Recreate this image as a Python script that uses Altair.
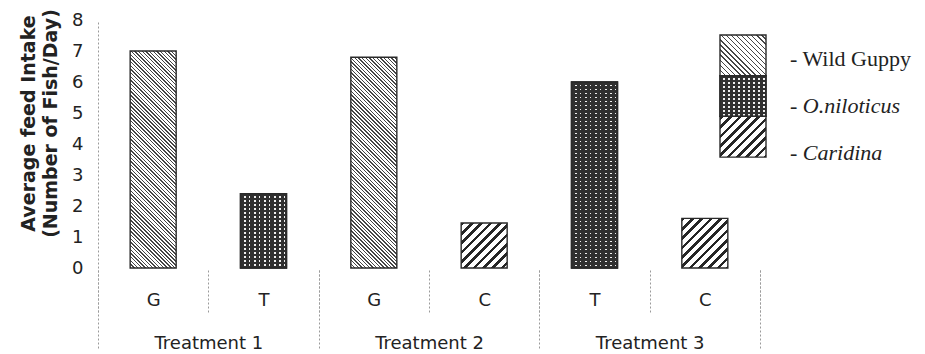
import math
import altair as alt
import pandas as pd

# ---------------- data ----------------
slots = ["G1", "T1", "G2", "C2", "T3", "C3"]
letters = ["G", "T", "G", "C", "T", "C"]
groups = ["Treatment 1", "Treatment 1", "Treatment 2", "Treatment 2", "Treatment 3", "Treatment 3"]
values = [7.0, 2.4, 6.8, 1.45, 6.0, 1.6]
species = ["Wild Guppy", "O.niloticus", "Wild Guppy", "Caridina", "O.niloticus", "Caridina"]
treatment_names = ["Treatment 1", "Treatment 2", "Treatment 3"]
legend_names = ["Wild Guppy", "O.niloticus", "Caridina"]
legend_labels = ["- Wild Guppy", "- O.niloticus", "- Caridina"]
y_ticks = [0, 1, 2, 3, 4, 5, 6, 7, 8]

# ---------------- layout / style ----------------
PLOT_W, PLOT_H = 662, 248
Y_MAX = 8
BAR_W = 46
PX = PLOT_H / Y_MAX
DARK = "#303030"
EDGE = "#2a2a2a"
WHITE = "#ffffff"
CLEAR = "rgba(255,255,255,0)"
GUIDE = "#9a9a9a"
TXT = "#222222"
SANS = "DejaVu Sans"
SERIF = "Liberation Serif"


def stripes(W, H, normal, period, dark_w, dark, light, phase=0.0):
    """Linear gradient (objectBoundingBox units) that draws straight stripes
    with the given pixel period, perpendicular to `normal` in pixel space."""
    a, b = normal
    n = math.hypot(a, b)
    a, b = a / n, b / n
    corners = [(0, 0), (W, 0), (0, H), (W, H)]
    ps = [a * x + b * y for x, y in corners]
    i = min(range(4), key=lambda k: ps[k])
    pmin = ps[i]
    L = max(ps) - pmin
    x1, y1 = corners[i]
    S = a * a * W * W + b * b * H * H
    c = L / S
    u1, v1 = x1 / W, y1 / H
    u2, v2 = u1 + c * a * W, v1 + c * b * H
    stops = [{"offset": 0, "color": light}]
    s = phase
    while s < L:
        s0 = max(s, 0.0)
        e = min(s + dark_w, L)
        if e > s0:
            o0, o1 = round(s0 / L, 5), round(e / L, 5)
            stops += [
                {"offset": o0, "color": light},
                {"offset": o0, "color": dark},
                {"offset": o1, "color": dark},
                {"offset": o1, "color": light},
            ]
        s += period
    stops.append({"offset": 1, "color": light})
    return {"gradient": "linear", "x1": round(u1, 5), "y1": round(v1, 5),
            "x2": round(u2, 5), "y2": round(v2, 5), "stops": stops}


def base_fill(name, W, H, legend=False):
    if name == "Wild Guppy":
        return stripes(W, H, (1, -1), 3.6 if legend else 2.6, 1.0, "#464646", WHITE)
    if name == "O.niloticus":
        return stripes(W, H, (0, 1), 4.0, 2.6, DARK, "#f0f0f0")
    return stripes(W, H, (1, 1), 6.6, 2.6, "#262626", WHITE)


def dot_overlay(W, H):
    return stripes(W, H, (1, 0), 5.0, 3.1, DARK, CLEAR)


# ---------------- main bars ----------------
df = pd.DataFrame({"slot": slots, "letter": letters, "group": groups,
                   "value": values, "species": species})

x_enc = alt.X(
    "slot:N", sort=slots,
    scale=alt.Scale(domain=slots, paddingInner=0, paddingOuter=0),
    axis=alt.Axis(
        title=None, orient="bottom", domain=False, ticks=True, tickBand="extent",
        tickSize=42, tickColor=GUIDE, tickDash=[2, 2], tickWidth=1, offset=2,
        labelExpr="substring(datum.label, 0, 1)", labelAngle=0,
        labelFont=SANS, labelFontSize=18, labelColor=TXT,
        labelBaseline="middle", labelPadding=-12, grid=False,
    ),
)
y_enc = alt.Y(
    "value:Q",
    scale=alt.Scale(domain=[0, Y_MAX], nice=False, zero=True),
    axis=alt.Axis(
        values=y_ticks, format="d", ticks=False, grid=False,
        domain=True, domainColor=GUIDE, domainDash=[2, 2], domainWidth=1,
        labelFont=SANS, labelFontSize=18, labelColor=TXT, labelPadding=15,
        title=["Average feed Intake", "(Number of Fish/Day)"],
        titleFont=SANS, titleFontSize=19, titleFontWeight="bold", titleColor=TXT,
        titleLineHeight=22, titleX=-70, titleY=103, titleBaseline="middle",
        titleAlign="center", titleAngle=270,
    ),
)

base = alt.Chart(df).encode(x=x_enc, y=y_enc)
bar_layers = []
for s, v, sp in zip(slots, values, species):
    H = v * PX
    bar_layers.append(
        base.transform_filter(alt.datum.slot == s).mark_bar(
            size=BAR_W, fill=base_fill(sp, BAR_W, H), stroke=EDGE, strokeWidth=1.4
        )
    )
    if sp == "O.niloticus":
        bar_layers.append(
            base.transform_filter(alt.datum.slot == s).mark_bar(
                size=BAR_W, fill=dot_overlay(BAR_W, H), stroke=EDGE, strokeWidth=1.4
            )
        )
main = alt.layer(*bar_layers)

# ---------------- treatment level axis ----------------
tdf = pd.DataFrame({"treatment": treatment_names})
treat = alt.Chart(tdf).mark_bar(opacity=0).encode(
    x=alt.X(
        "treatment:N", sort=treatment_names,
        scale=alt.Scale(domain=treatment_names, paddingInner=0, paddingOuter=0),
        axis=alt.Axis(
            title=None, orient="bottom", domain=False, ticks=True, tickBand="extent",
            tickSize=80, tickColor=GUIDE, tickDash=[2, 2], tickWidth=1, offset=2,
            labelAngle=0, labelFont=SANS, labelFontSize=18, labelColor=TXT,
            labelBaseline="middle", labelPadding=-7, grid=False,
        ),
    )
)

# ---------------- legend (drawn through its own scales) ----------------
n_leg = len(legend_names)
ldf = pd.DataFrame({"name": legend_names, "label": legend_labels,
                    "idx": [n_leg - 1 - i for i in range(n_leg)]})

SEG = 40.7            # px per legend swatch
BOX_TOP = 15          # px below plot top
ROW = 47.0            # px between legend text rows
ROW_TOP = 39          # px below plot top (first row centre)
BOX_LEFT = 622        # px right of plot left
lx_unit = BAR_W
lx_dom = [-BOX_LEFT / lx_unit, (PLOT_W - BOX_LEFT) / lx_unit]
ly_top = n_leg + BOX_TOP / SEG
ly_dom = [ly_top - PLOT_H / SEG, ly_top]
ty_top = (n_leg - 1) + ROW_TOP / ROW
ty_dom = [ty_top - PLOT_H / ROW, ty_top]

lx = alt.X(datum=0, type="quantitative",
           scale=alt.Scale(domain=lx_dom, nice=False, zero=False), axis=None)
lbase = alt.Chart(ldf).transform_calculate(idx2="datum.idx + 1").encode(
    x=lx, x2=alt.X2(datum=1),
    y=alt.Y("idx:Q", scale=alt.Scale(domain=ly_dom, nice=False, zero=False), axis=None),
    y2="idx2:Q",
)
box_layers = []
for nm in legend_names:
    box_layers.append(
        lbase.transform_filter(alt.datum.name == nm).mark_rect(
            fill=base_fill(nm, BAR_W, SEG, legend=True), stroke=EDGE, strokeWidth=1.4
        )
    )
    if nm == "O.niloticus":
        box_layers.append(
            lbase.transform_filter(alt.datum.name == nm).mark_rect(
                fill=dot_overlay(BAR_W, SEG), stroke=EDGE, strokeWidth=1.4
            )
        )
boxes = alt.layer(*box_layers)

tbase = alt.Chart(ldf).encode(
    x=alt.X(datum=1, type="quantitative",
            scale=alt.Scale(domain=lx_dom, nice=False, zero=False), axis=None),
    y=alt.Y("idx:Q", scale=alt.Scale(domain=ty_dom, nice=False, zero=False), axis=None),
    text="label:N",
)
txt_plain = tbase.transform_filter(alt.datum.name == legend_names[0]).mark_text(
    align="left", baseline="middle", dx=24, font=SERIF, fontSize=22, color=TXT)
txt_ital = tbase.transform_filter(alt.datum.name != legend_names[0]).mark_text(
    align="left", baseline="middle", dx=24, font=SERIF, fontSize=22, color=TXT,
    fontStyle="italic")
texts = alt.layer(txt_plain, txt_ital)

legend = alt.layer(boxes, texts).resolve_scale(y="independent")

chart = (
    alt.layer(main, treat, legend)
    .resolve_scale(x="independent", y="independent")
    .properties(width=PLOT_W, height=PLOT_H,
                padding={"left": 10, "top": 0, "right": 4, "bottom": 0},
                background="white")
    .configure_view(stroke=None)
)

chart.save("out.html", embed_options={"renderer": "svg", "actions": False})
